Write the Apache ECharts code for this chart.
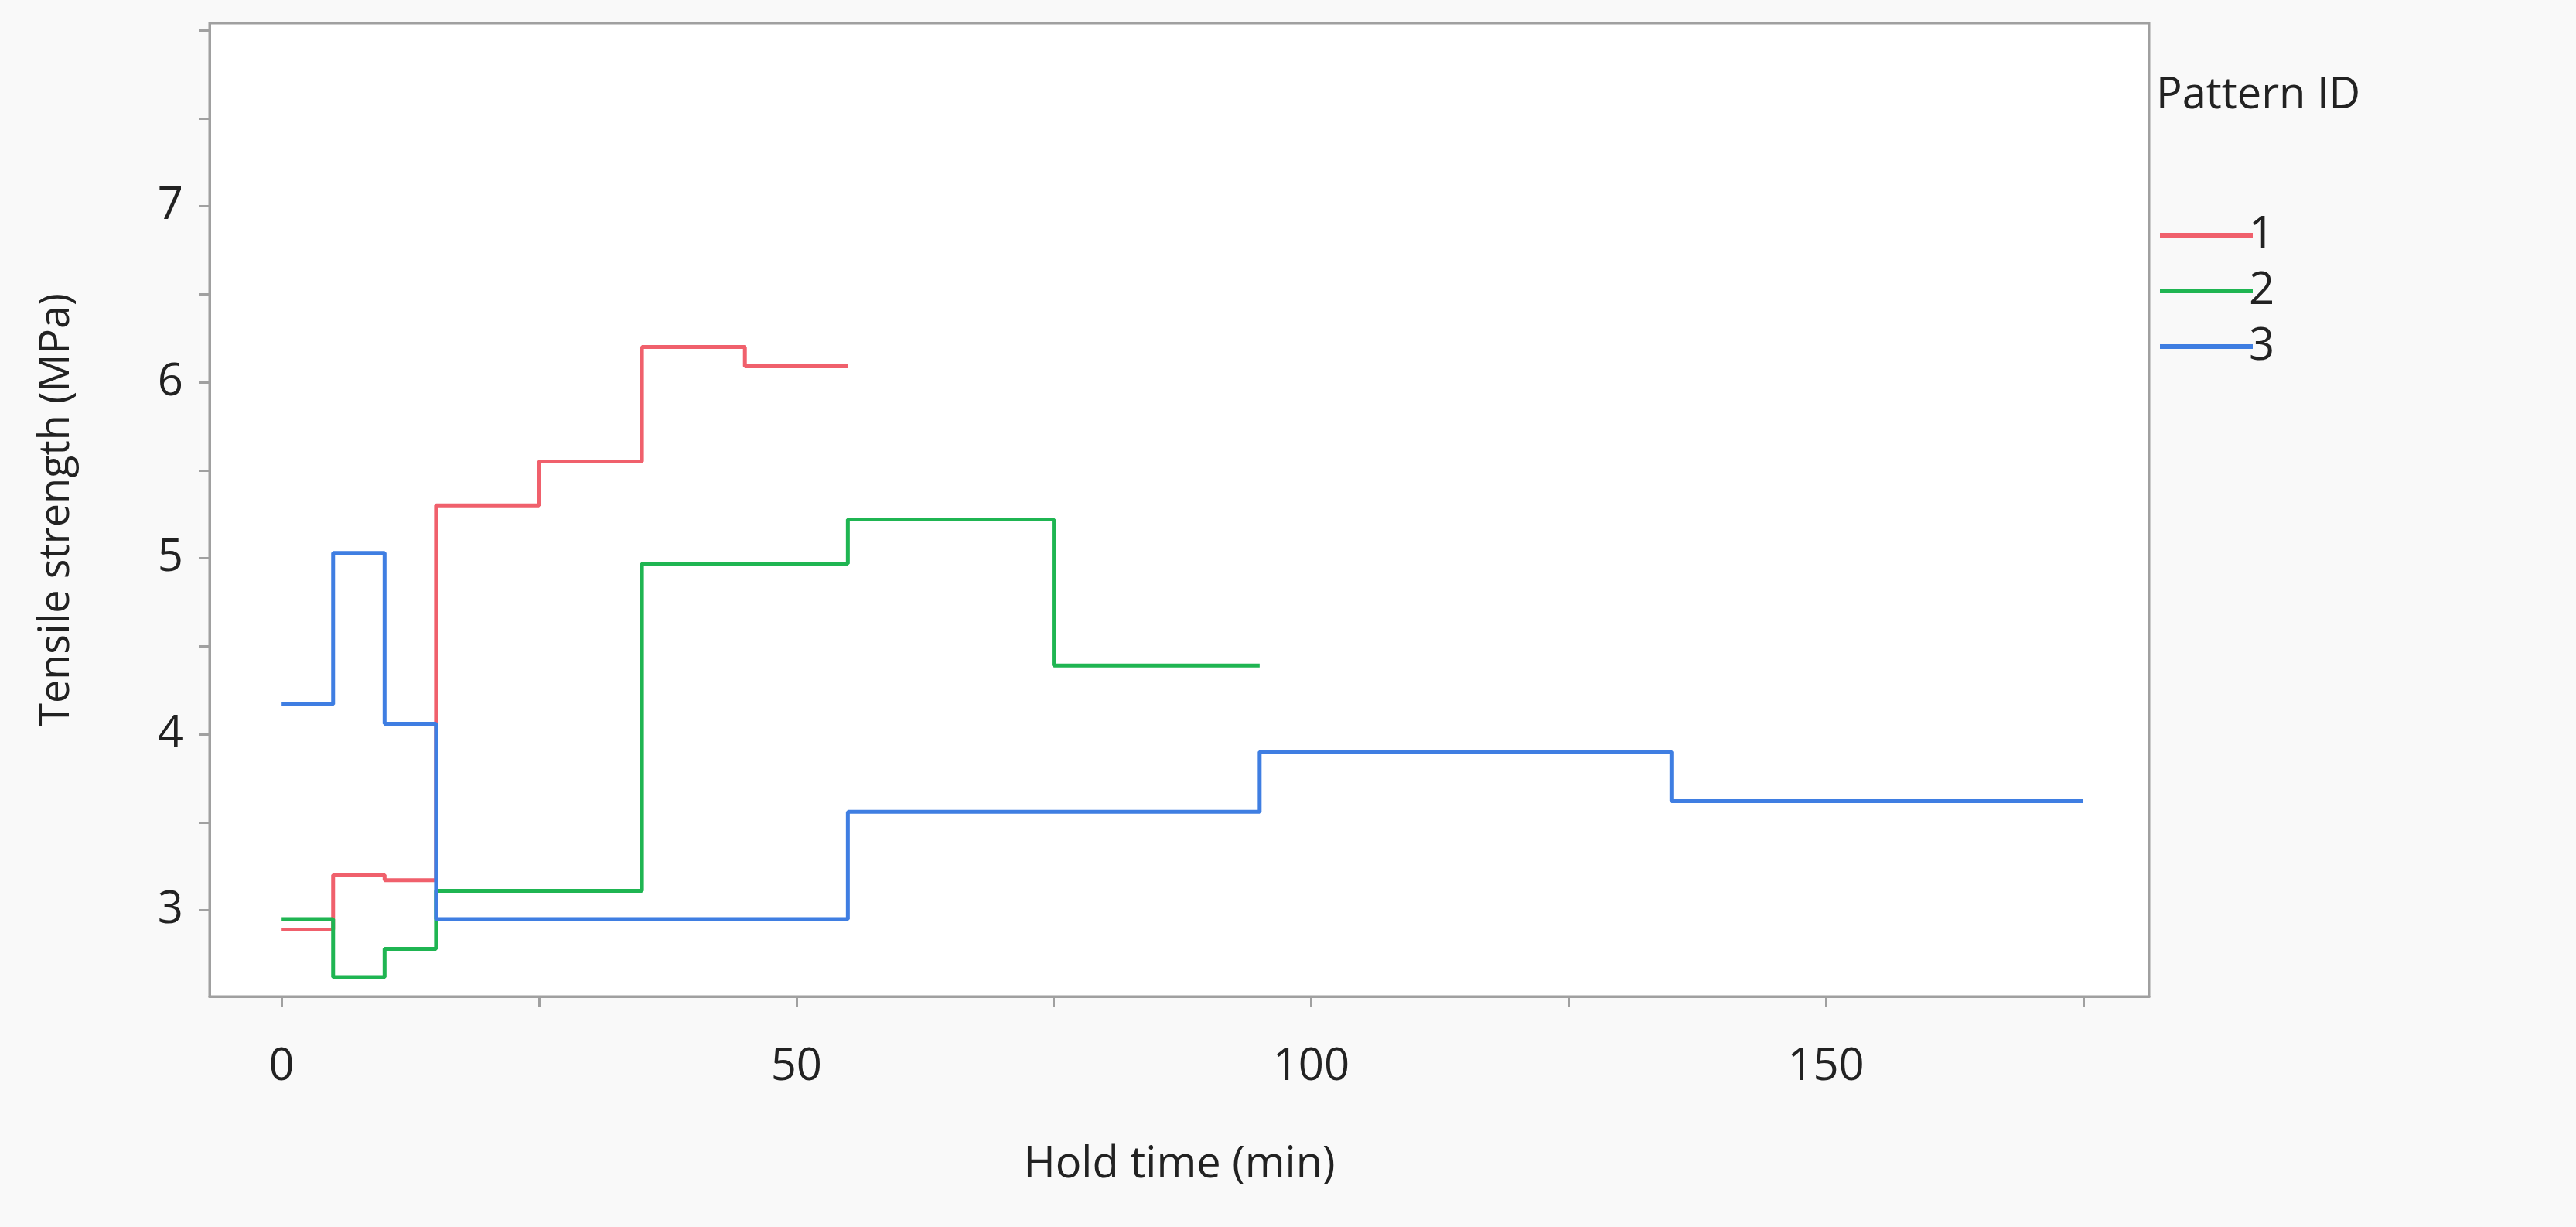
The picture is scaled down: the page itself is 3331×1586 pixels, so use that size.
<!DOCTYPE html>
<html>
<head>
<meta charset="utf-8">
<script src="https://cdn.jsdelivr.net/npm/echarts@6/dist/echarts.min.js"></script>
<style>
  html, body { margin: 0; padding: 0; background: #f9f9f9; }
  #chart { width: 3331px; height: 1586px; }
</style>
</head>
<body>
<div id="chart"></div>
<script>
// step data: [hold time, tensile strength]; last point repeats final level
const pattern1 = [[0, 2.89], [5, 3.2], [10, 3.17], [15, 5.3], [25, 5.55], [35, 6.2], [45, 6.09], [55, 6.09]];
const pattern2 = [[0, 2.95], [5, 2.62], [10, 2.78], [15, 3.11], [35, 4.97], [55, 5.22], [75, 4.39], [95, 4.39]];
const pattern3 = [[0, 4.17], [5, 5.03], [10, 4.06], [15, 2.95], [55, 3.56], [95, 3.9], [135, 3.62], [175, 3.62]];
const xLabels = [0, 50, 100, 150];
const xTicks = [0, 25, 50, 75, 100, 125, 150, 175];
const yLabels = [3, 4, 5, 6, 7];
const yTicks = [2.5, 3, 3.5, 4, 4.5, 5, 5.5, 6, 6.5, 7, 7.5, 8];

const FONT = '"Open Sans", "Noto Sans", sans-serif';
const chart = echarts.init(document.getElementById('chart'));

const mkSeries = (name, data, color) => ({
  name, type: 'line', step: 'end', data, symbol: 'none',
  lineStyle: { color, width: 5 }, itemStyle: { color }
});

chart.setOption({
  backgroundColor: '#f9f9f9',
  animation: false,
  textStyle: { fontFamily: FONT },
  grid: {
    left: 271, right: 3331 - 2779, top: 30, bottom: 1586 - 1288,
    show: true, backgroundColor: '#ffffff', borderColor: '#a0a0a0', borderWidth: 3
  },
  graphic: [{
    type: 'text', left: 2788, top: 96,
    style: { text: 'Pattern ID', font: '56px ' + FONT, fill: '#222' }
  }],
  legend: {
    orient: 'vertical', left: 2788, top: 270, itemGap: 14,
    itemWidth: 120, itemHeight: 6,
    icon: 'rect',
    textStyle: { fontSize: 58, color: '#222', padding: [0, 0, 0, -10] },
    data: ['1', '2', '3']
  },
  xAxis: {
    type: 'value', min: -7, max: 181.4,
    name: 'Hold time (min)', nameLocation: 'middle', nameGap: 190,
    nameTextStyle: { fontSize: 56, color: '#222' },
    splitLine: { show: false },
    axisLine: { show: true, onZero: false, lineStyle: { color: '#a0a0a0', width: 3 } },
    axisTick: { show: true, length: 14, customValues: xTicks, lineStyle: { color: '#a0a0a0', width: 3 } },
    axisLabel: { customValues: xLabels, fontSize: 58, color: '#222', margin: 62 }
  },
  yAxis: {
    type: 'value', min: 2.51, max: 8.04,
    name: 'Tensile strength (MPa)', nameLocation: 'middle', nameGap: 170,
    nameTextStyle: { fontSize: 54, color: '#222' },
    splitLine: { show: false },
    axisLine: { show: true, onZero: false, lineStyle: { color: '#a0a0a0', width: 3 } },
    axisTick: { show: true, length: 14, customValues: yTicks, lineStyle: { color: '#a0a0a0', width: 3 } },
    axisLabel: { customValues: yLabels, fontSize: 58, color: '#222', margin: 34 }
  },
  series: [
    mkSeries('1', pattern1, '#f0606c'),
    mkSeries('2', pattern2, '#1fb552'),
    mkSeries('3', pattern3, '#3f7ee2')
  ]
});
</script>
</body>
</html>
